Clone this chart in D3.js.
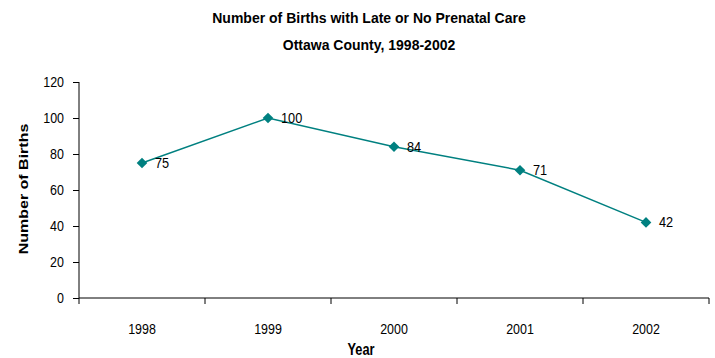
<!DOCTYPE html>
<html><head><meta charset="utf-8">
<script src="https://cdn.jsdelivr.net/npm/d3@7"></script>
<style>
body{margin:0;background:#fff;}
text{font-family:"Liberation Sans",Arial,sans-serif;}
</style></head>
<body><svg id="c" width="715" height="358"></svg>
<script>
const years = ["1998","1999","2000","2001","2002"];
const births = [75, 100, 84, 71, 42];
const yTicks = [0, 20, 40, 60, 80, 100, 120];
const titleLines = ["Number of Births with Late or No Prenatal Care", "Ottawa County, 1998-2002"];

(function(){
const svg = d3.select("#c");
const mLeft = 79, mRight = 709, mTop = 82, mBottom = 298;
const x = d3.scaleBand().domain(years).range([mLeft, mRight]).padding(0);
const y = d3.scaleLinear().domain([0, 120]).range([mBottom, mTop]);
const color = "#008080";
const sx = 0.86;

function label(g, tx, ty, txt, size, anchor, bold, s){
  return g.append("text")
    .attr("transform", `translate(${tx},${ty}) scale(${s},1)`)
    .attr("text-anchor", anchor).attr("font-size", size)
    .attr("font-weight", bold ? "bold" : "normal").attr("fill","#000").text(txt);
}

titleLines.forEach((t,i)=> label(svg, 369, 23 + i*27, t, 14, "middle", true, 1));

// Y axis
const yAxis = svg.append("g").attr("transform", `translate(${mLeft},0)`)
  .call(d3.axisLeft(y).tickValues(yTicks).tickSize(6));
yAxis.select(".domain").attr("stroke","#000").attr("d", `M0,${mTop}V${mBottom}`);
yAxis.selectAll(".tick line").attr("stroke","#000");
yAxis.selectAll("text").remove();
const yl = svg.append("g");
yTicks.forEach(v => label(yl, mLeft-15, y(v)+5, v, 14.5, "end", false, sx));

// X axis
const xAxis = svg.append("g").attr("transform", `translate(0,${mBottom})`)
  .call(d3.axisBottom(x).tickSize(0));
xAxis.select(".domain").attr("stroke","#000").attr("d", `M${mLeft},0H${mRight}`);
xAxis.selectAll(".tick line").remove();
xAxis.selectAll("text").remove();
svg.append("g").selectAll("line").data(years.concat(["end"])).join("line")
  .attr("x1",(d,i)=> i < years.length ? x(d) : mRight)
  .attr("x2",(d,i)=> i < years.length ? x(d) : mRight)
  .attr("y1", mBottom).attr("y2", mBottom+6).attr("stroke","#000");
const cx = d => x(d) + x.bandwidth()/2;
const xl = svg.append("g");
years.forEach(yr => label(xl, cx(yr), 334, yr, 14.5, "middle", false, sx));

// axis titles
svg.append("text").attr("transform","translate(28,189) scale(0.82,1) rotate(-90)")
  .attr("text-anchor","middle").attr("font-size",16).attr("font-weight","bold").text("Number of Births");
label(svg, 361, 355, "Year", 16, "middle", true, 0.8);

const data = years.map((d,i)=>({year:d, v:births[i]}));

svg.append("path").datum(data)
  .attr("fill","none").attr("stroke", color).attr("stroke-width",1.5)
  .attr("d", d3.line().x(d=>cx(d.year)).y(d=>y(d.v)));

svg.append("g").selectAll("path").data(data).join("path")
  .attr("transform", d=>`translate(${cx(d.year)},${y(d.v)})`)
  .attr("d", d3.symbol(d3.symbolDiamond2, 72))
  .attr("fill", color);

const dl = svg.append("g");
data.forEach(d => label(dl, cx(d.year)+13, y(d.v)+5, d.v, 15, "start", false, 0.85));
})();
</script></body></html>
